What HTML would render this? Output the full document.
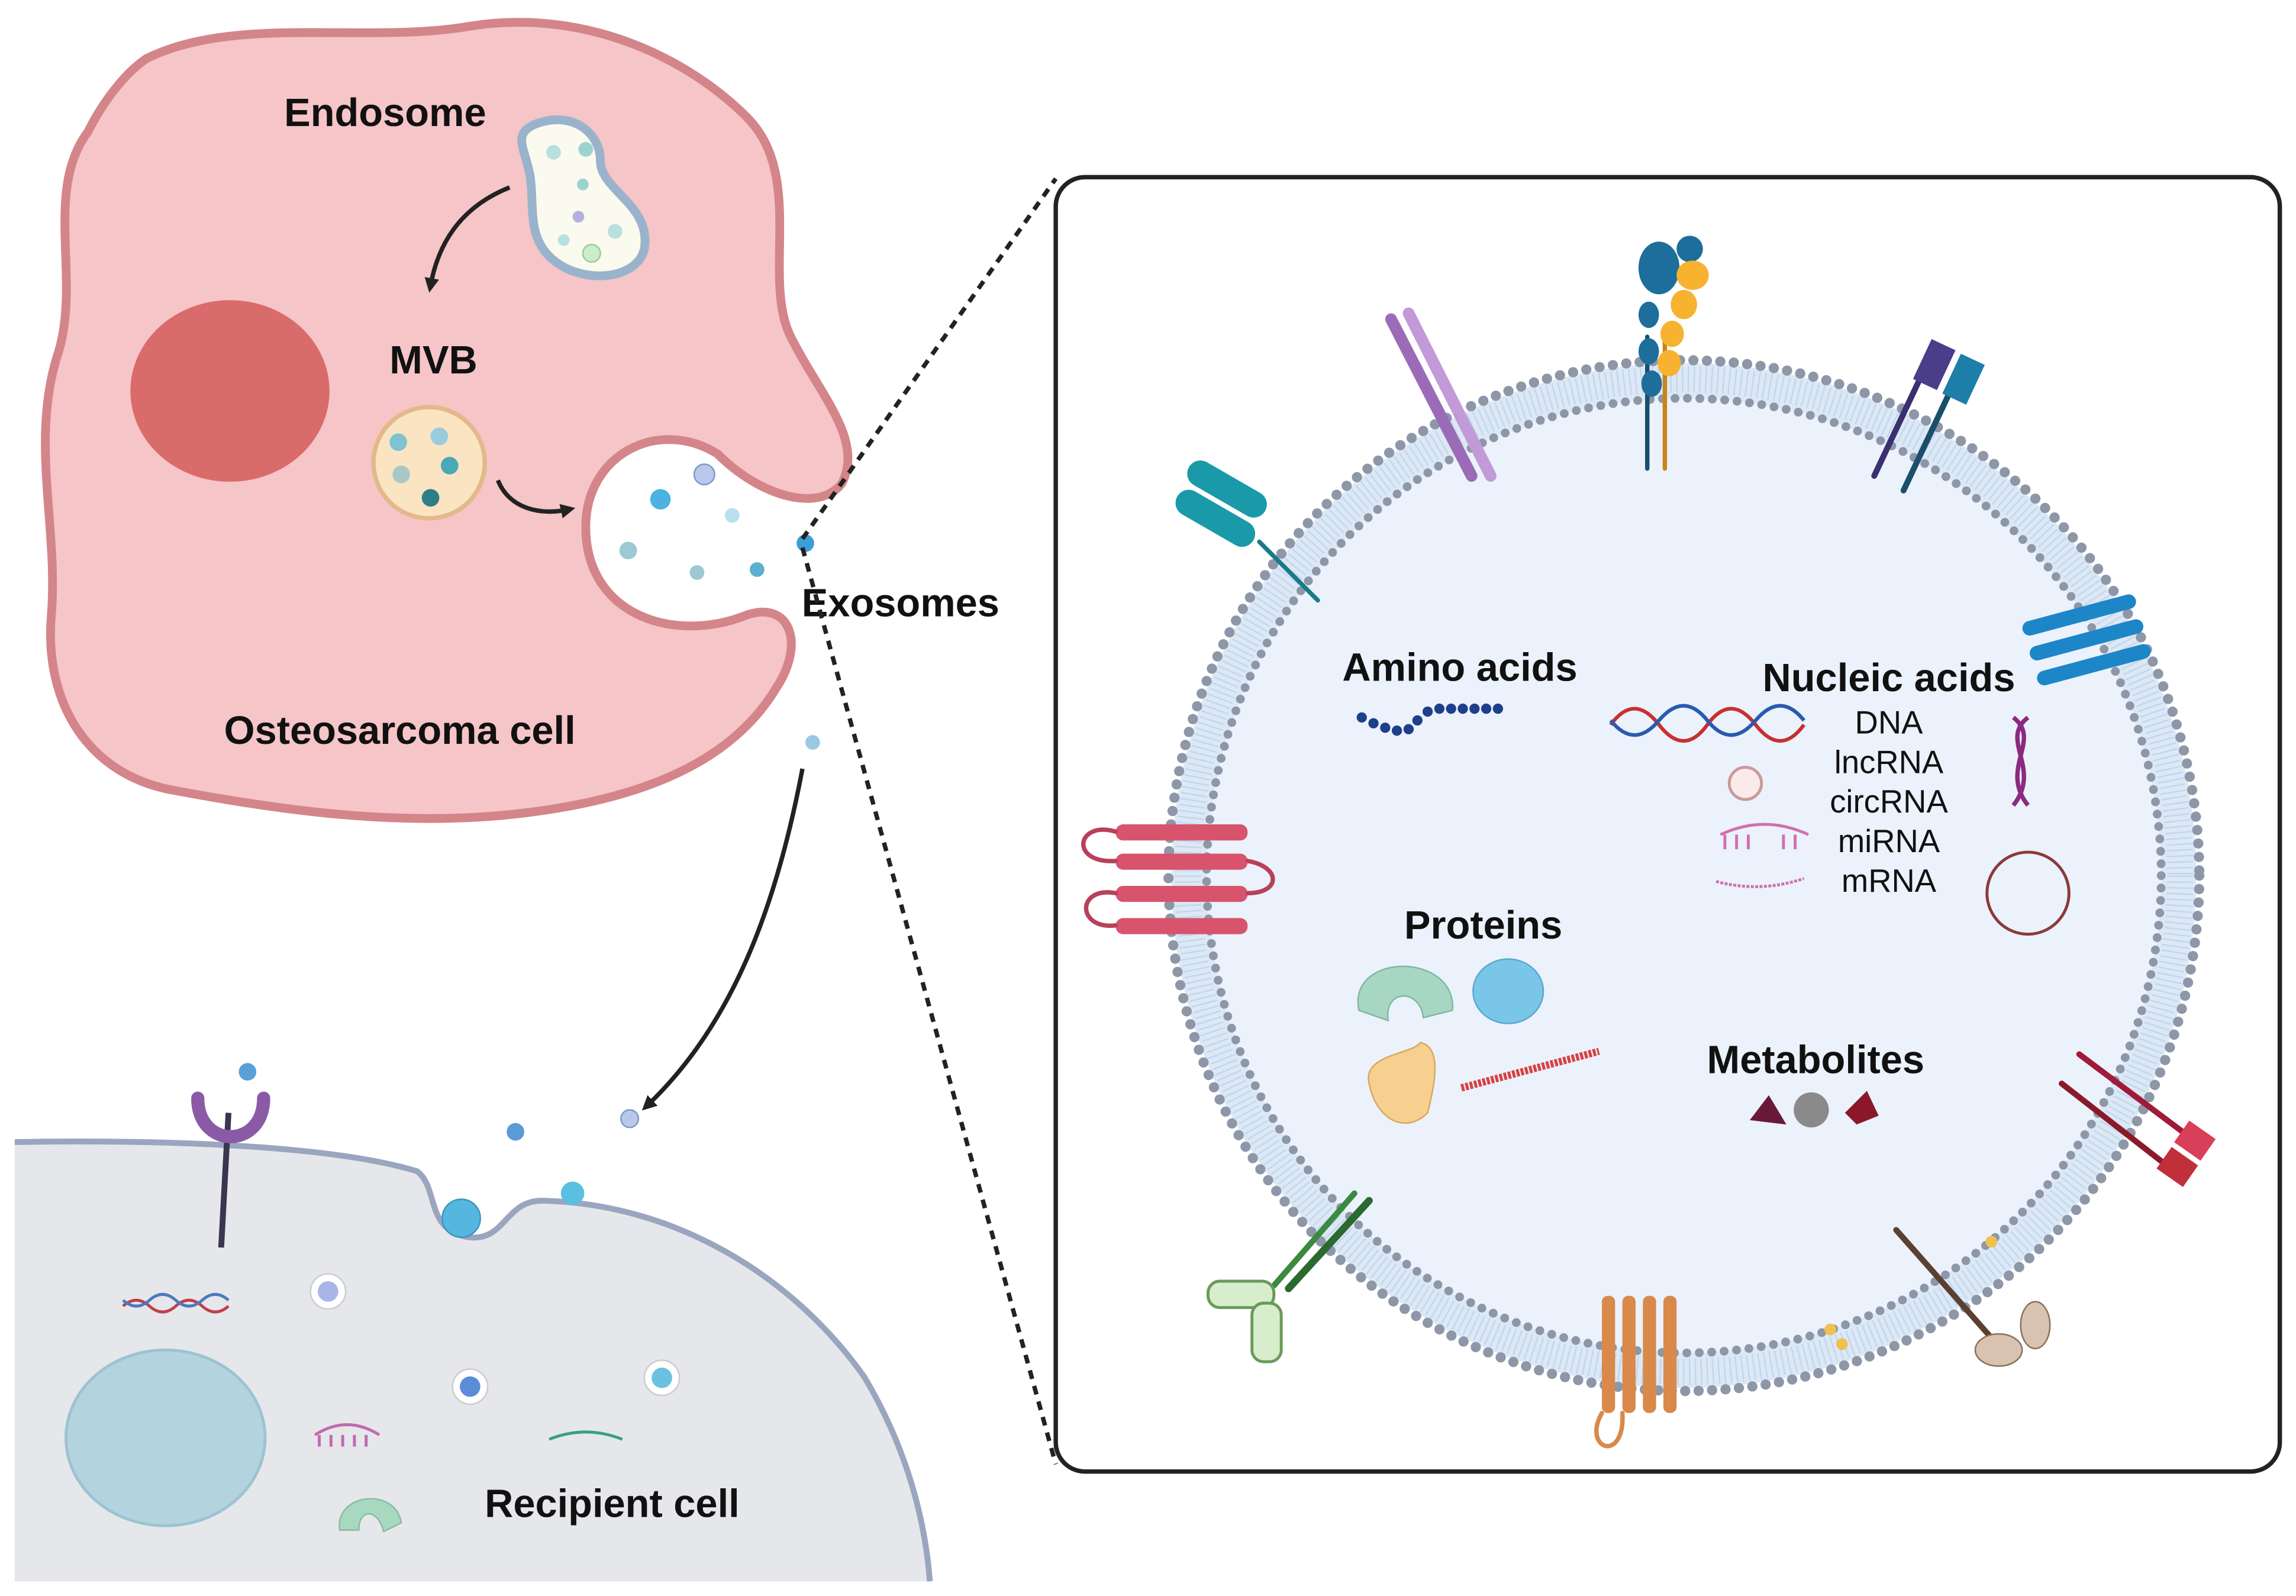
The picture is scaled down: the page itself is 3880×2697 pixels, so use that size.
<!DOCTYPE html>
<html><head><meta charset="utf-8"><style>
html,body{margin:0;padding:0;background:#fff;}
svg{display:block;}
text{font-family:"Liberation Sans",Arial,sans-serif;}
</style></head><body>
<svg width="3880" height="2697" viewBox="0 0 1568 1090" xmlns="http://www.w3.org/2000/svg">
<defs>
<marker id="ah" markerWidth="10" markerHeight="10" refX="5" refY="5" orient="auto" markerUnits="userSpaceOnUse" viewBox="0 0 10 10"><path d="M0,0 L10,5 L0,10 z" fill="#222"/></marker>
</defs>
<rect width="1568" height="1090" fill="#fff"/>

<!-- Recipient cell -->
<path d="M10,780 C120,778 230,783 285,800 C300,812 290,840 320,845 C345,848 345,820 370,820 C460,822 540,870 590,940 C620,990 632,1040 635,1080 L10,1080 Z" fill="#e6e7ea"/>
<path d="M10,780 C120,778 230,783 285,800 C300,812 290,840 320,845 C345,848 345,820 370,820 C460,822 540,870 590,940 C620,990 632,1040 635,1080" fill="none" stroke="#9aa6bf" stroke-width="4"/>
<ellipse cx="113" cy="982" rx="68" ry="60" fill="#b3d3df" stroke="#9cc3d2" stroke-width="2"/>
<line x1="151" y1="852" x2="156" y2="760" stroke="#3a3550" stroke-width="4"/>
<path d="M135,750 C135,785 180,785 180,750" fill="none" stroke="#8a5aa6" stroke-width="9" stroke-linecap="round"/>
<circle cx="169" cy="732" r="6" fill="#5aa0d8"/>
<circle cx="352" cy="773" r="6" fill="#5a9ad8"/>
<circle cx="430" cy="764" r="6" fill="#b7c8ea" stroke="#7f98c9"/>
<circle cx="391" cy="815" r="8" fill="#5ac0e0"/>
<circle cx="315" cy="832" r="13" fill="#55b7e0" stroke="#3a95c2"/>
<circle cx="224" cy="882" r="12" fill="#fff" stroke="#ccc"/><circle cx="224" cy="882" r="7" fill="#a7b6e6"/>
<circle cx="321" cy="947" r="12" fill="#fff" stroke="#ccc"/><circle cx="321" cy="947" r="7" fill="#5a8cd8"/>
<circle cx="452" cy="941" r="12" fill="#fff" stroke="#ccc"/><circle cx="452" cy="941" r="7" fill="#6cc0e0"/>
<path d="M84,892 q9,-8 18,0 t18,0 t18,0 t18,0" stroke="#c0404a" stroke-width="2" fill="none"/>
<path d="M84,888 q9,8 18,0 t18,0 t18,0 t18,0" stroke="#4a7ac0" stroke-width="2" fill="none"/>
<path d="M215,980 q22,-14 44,0 M218,980 v8 M226,980 v8 M234,980 v8 M242,980 v8 M250,980 v8" stroke="#c06ab0" stroke-width="2" fill="none"/>
<path d="M375,983 q25,-10 50,0" stroke="#3aa080" stroke-width="2" fill="none"/>
<path d="M232,1045 C228,1020 270,1015 274,1040 L262,1046 C258,1030 245,1030 245,1045 Z" fill="#a8d8c0" stroke="#88bca4"/>
<text x="418" y="1036" font-size="27" font-weight="bold" text-anchor="middle" fill="#111">Recipient cell</text>

<!-- Osteosarcoma cell -->
<path d="M100,40 C160,10 250,30 320,18 C400,5 470,40 510,80 C550,120 520,190 540,230 C560,270 590,300 575,330 C560,350 520,340 490,310 C450,285 400,310 400,360 C400,420 460,440 510,420 C540,410 550,440 530,470 C500,520 440,545 360,555 C280,565 200,555 120,540 C60,530 30,480 35,420 C40,360 20,300 40,240 C55,190 30,130 60,90 C70,70 85,50 100,40 Z" fill="#f5c5c7" stroke="#d4858a" stroke-width="6"/>
<ellipse cx="157" cy="267" rx="68" ry="62" fill="#da6b6b"/>
<path d="M365,85 C390,75 410,90 410,110 C410,130 445,140 440,170 C435,192 395,195 375,175 C360,160 365,140 362,120 C358,100 350,92 365,85 Z" fill="#fbfaee" stroke="#9ab3cc" stroke-width="6"/>
<circle cx="378" cy="104" r="5" fill="#b8e0e0"/><circle cx="400" cy="102" r="5" fill="#9cd2d0"/><circle cx="398" cy="126" r="4" fill="#9cd2d0"/><circle cx="395" cy="148" r="4" fill="#b6b0e0"/><circle cx="420" cy="158" r="5" fill="#b8e0e0"/><circle cx="404" cy="173" r="6" fill="#cdeccd" stroke="#9c9"/><circle cx="385" cy="164" r="4" fill="#b8e0e0"/>
<path d="M348,128 C318,140 300,162 294,195" fill="none" stroke="#222" stroke-width="3" marker-end="url(#ah)"/>
<circle cx="293" cy="316" r="38" fill="#fbe4c2" stroke="#e3b98a" stroke-width="3"/>
<circle cx="272" cy="302" r="6" fill="#7ec3d2"/><circle cx="300" cy="298" r="6" fill="#9cd"/><circle cx="307" cy="318" r="6" fill="#48a9b8"/><circle cx="274" cy="324" r="6" fill="#a8c8c8"/><circle cx="294" cy="340" r="6" fill="#2e7e8a"/>
<path d="M340,328 C348,348 370,352 388,348" fill="none" stroke="#222" stroke-width="3" marker-end="url(#ah)"/>
<circle cx="481" cy="324" r="7" fill="#b7c8ea" stroke="#7f98c9"/><circle cx="451" cy="341" r="7" fill="#4cb2e0"/><circle cx="500" cy="352" r="5" fill="#b8e0ee"/><circle cx="429" cy="376" r="6" fill="#9cc9d2"/><circle cx="476" cy="391" r="5" fill="#9cc9d2"/><circle cx="517" cy="389" r="5" fill="#5ab0d0"/>
<circle cx="550" cy="371" r="6" fill="#3a9fd8"/>
<circle cx="555" cy="507" r="5" fill="#9cc9e2"/>
<text x="263" y="86" font-size="27" font-weight="bold" text-anchor="middle" fill="#111">Endosome</text>
<text x="296" y="255" font-size="27" font-weight="bold" text-anchor="middle" fill="#111">MVB</text>
<text x="273" y="508" font-size="27" font-weight="bold" text-anchor="middle" fill="#111">Osteosarcoma cell</text>
<text x="615" y="421" font-size="27" font-weight="bold" text-anchor="middle" fill="#111">Exosomes</text>
<path d="M548,525 C530,620 500,700 442,755" fill="none" stroke="#222" stroke-width="3" marker-end="url(#ah)"/>

<line x1="548" y1="368" x2="721" y2="122" stroke="#222" stroke-width="3" stroke-dasharray="6,5"/>
<line x1="548" y1="374" x2="721" y2="1000" stroke="#222" stroke-width="3" stroke-dasharray="6,5"/>

<rect x="721" y="121" width="836" height="884" rx="20" fill="#fff" stroke="#222" stroke-width="3"/>
<circle cx="1150" cy="598" r="350" fill="#dde8f5"/>
<circle cx="1150" cy="598" r="326" fill="#ebf2fb"/>
<circle cx="1150" cy="598" r="352" fill="none" stroke="#8d97a8" stroke-width="7" stroke-dasharray="0 9.2" stroke-linecap="round"/>
<circle cx="1150" cy="598" r="326" fill="none" stroke="#8d97a8" stroke-width="6" stroke-dasharray="0 8.5" stroke-linecap="round"/>
<circle cx="1150" cy="598" r="339" fill="none" stroke="#c2d6ee" stroke-width="18" stroke-dasharray="1 3"/>

<g stroke-linecap="round">
<line x1="1125" y1="320" x2="1125" y2="230" stroke="#1a4f6a" stroke-width="3"/><line x1="1137" y1="320" x2="1137" y2="230" stroke="#c8851a" stroke-width="3"/>
<ellipse cx="1133" cy="183" rx="14" ry="18" fill="#1d6e9a"/><circle cx="1154" cy="170" r="9" fill="#1d6e9a"/><ellipse cx="1156" cy="188" rx="11" ry="10" fill="#f7b230"/><ellipse cx="1150" cy="208" rx="9" ry="10" fill="#f7b230"/><ellipse cx="1142" cy="228" rx="8" ry="9" fill="#f7b230"/><ellipse cx="1140" cy="248" rx="8" ry="9" fill="#f7b230"/><ellipse cx="1126" cy="215" rx="7" ry="9" fill="#1d6e9a"/><ellipse cx="1126" cy="240" rx="7" ry="9" fill="#1d6e9a"/><ellipse cx="1128" cy="262" rx="7" ry="9" fill="#1d6e9a"/>
<line x1="950" y1="218" x2="1005" y2="325" stroke="#9b6bb8" stroke-width="8"/><line x1="962" y1="214" x2="1018" y2="325" stroke="#c29ad8" stroke-width="8"/>
<line x1="1280" y1="325" x2="1320" y2="240" stroke="#3a2f70" stroke-width="4"/><rect x="1312" y="234" width="18" height="30" fill="#4a3d8a" transform="rotate(25 1321 249)"/>
<line x1="1300" y1="335" x2="1340" y2="250" stroke="#1a4f6a" stroke-width="4"/><rect x="1332" y="244" width="18" height="30" fill="#1d7eaa" transform="rotate(25 1341 259)"/>
<rect x="808" y="325" width="60" height="18" rx="9" fill="#1a9aa8" transform="rotate(30 838 334)"/><rect x="800" y="345" width="60" height="18" rx="9" fill="#1a9aa8" transform="rotate(30 830 354)"/><line x1="860" y1="370" x2="900" y2="410" stroke="#1a7a88" stroke-width="3"/>
<g fill="#1d86c8"><rect x="1380" y="415" width="80" height="10" rx="5" transform="rotate(-15 1420 420)"/><rect x="1385" y="432" width="80" height="10" rx="5" transform="rotate(-15 1425 437)"/><rect x="1390" y="449" width="80" height="10" rx="5" transform="rotate(-15 1430 454)"/></g>
<g fill="#d8546c"><rect x="762" y="563" width="90" height="11" rx="5"/><rect x="762" y="583" width="90" height="11" rx="5"/><rect x="762" y="605" width="90" height="11" rx="5"/><rect x="762" y="627" width="90" height="11" rx="5"/></g>
<path d="M762,568 C735,560 730,590 762,588 M762,610 C735,605 735,635 762,632 M852,588 C875,592 875,610 852,610" fill="none" stroke="#b8405a" stroke-width="3"/>
<line x1="1420" y1="720" x2="1500" y2="780" stroke="#a01a3a" stroke-width="4"/><rect x="1488" y="770" width="22" height="18" fill="#d8405a" transform="rotate(35 1499 779)"/>
<line x1="1408" y1="740" x2="1485" y2="800" stroke="#8a1a2a" stroke-width="4"/><rect x="1476" y="788" width="22" height="18" fill="#c0303a" transform="rotate(35 1487 797)"/>
<line x1="935" y1="820" x2="880" y2="880" stroke="#2a6a30" stroke-width="5"/><line x1="925" y1="815" x2="870" y2="878" stroke="#3a8a40" stroke-width="4"/>
<rect x="825" y="875" width="45" height="18" rx="8" fill="#d8edcc" stroke="#6a9a5a" stroke-width="2"/><rect x="855" y="890" width="20" height="40" rx="8" fill="#d8edcc" stroke="#6a9a5a" stroke-width="2"/>
<g fill="#d9894a"><rect x="1094" y="885" width="9" height="80" rx="4"/><rect x="1108" y="885" width="9" height="80" rx="4"/><rect x="1122" y="885" width="9" height="80" rx="4"/><rect x="1136" y="885" width="9" height="80" rx="4"/></g>
<path d="M1094,965 C1080,990 1110,1000 1108,965" fill="none" stroke="#d9894a" stroke-width="3"/>
<line x1="1295" y1="840" x2="1370" y2="925" stroke="#5a4030" stroke-width="4"/><ellipse cx="1365" cy="922" rx="16" ry="11" fill="#d8c2b0" stroke="#8a705a"/><ellipse cx="1390" cy="905" rx="10" ry="16" fill="#d8c2b0" stroke="#8a705a"/>
<circle cx="1250" cy="908" r="4" fill="#f0c050"/><circle cx="1258" cy="918" r="4" fill="#f0c050"/><circle cx="1360" cy="848" r="4" fill="#f0c050"/>
</g>

<text x="997" y="465" font-size="27" font-weight="bold" text-anchor="middle" fill="#111">Amino acids</text>
<g fill="#1e3f8a"><circle cx="930" cy="490" r="3.5"/><circle cx="938" cy="494" r="3.5"/><circle cx="946" cy="497" r="3.5"/><circle cx="954" cy="499" r="3.5"/><circle cx="962" cy="498" r="3.5"/><circle cx="968" cy="492" r="3.5"/><circle cx="975" cy="486" r="3.5"/><circle cx="983" cy="484" r="3.5"/><circle cx="991" cy="484" r="3.5"/><circle cx="999" cy="484" r="3.5"/><circle cx="1007" cy="484" r="3.5"/><circle cx="1015" cy="484" r="3.5"/><circle cx="1023" cy="484" r="3.5"/></g>
<text x="1290" y="472" font-size="27" font-weight="bold" text-anchor="middle" fill="#111">Nucleic acids</text>
<g font-size="22" text-anchor="middle" fill="#111"><text x="1290" y="501">DNA</text><text x="1290" y="528">lncRNA</text><text x="1290" y="555">circRNA</text><text x="1290" y="582">miRNA</text><text x="1290" y="609">mRNA</text></g>
<path d="M1100,495 q16,-22 33,0 t33,0 t33,0 t33,0" stroke="#c83030" stroke-width="2.5" fill="none"/>
<path d="M1100,492 q16,20 33,0 t33,0 t33,0 t33,0" stroke="#2a5ab0" stroke-width="2.5" fill="none"/>
<circle cx="1192" cy="535" r="11" fill="#fbeaea" stroke="#c89a9a" stroke-width="2"/>
<path d="M1175,570 q30,-14 60,0 M1178,570 v10 M1186,570 v10 M1194,570 v10 M1218,570 v10 M1226,570 v10" stroke="#d070b0" stroke-width="2" fill="none"/>
<path d="M1172,602 q30,8 60,-2" stroke="#d070b0" stroke-width="2" fill="none" stroke-dasharray="2,1"/>
<path d="M1375,490 C1395,505 1365,525 1385,550 M1385,490 C1365,505 1395,525 1375,550" stroke="#8a2a80" stroke-width="3" fill="none"/>
<circle cx="1385" cy="610" r="28" fill="none" stroke="#8a3a3a" stroke-width="2"/>
<text x="1013" y="641" font-size="27" font-weight="bold" text-anchor="middle" fill="#111">Proteins</text>
<path d="M928,690 C920,650 995,650 992,690 L972,695 C970,675 945,675 948,697 Z" fill="#a7d6c3" stroke="#7fb8a2"/>
<ellipse cx="1030" cy="677" rx="24" ry="22" fill="#79c6e8" stroke="#5aa8d0"/>
<path d="M935,740 C930,720 965,720 970,712 C985,715 980,740 975,760 C960,775 940,765 935,740 Z" fill="#f7cf8e" stroke="#d8a860"/>
<line x1="998" y1="743" x2="1092" y2="718" stroke="#d84040" stroke-width="5" stroke-dasharray="2,1"/>
<text x="1240" y="733" font-size="27" font-weight="bold" text-anchor="middle" fill="#111">Metabolites</text>
<path d="M1195,765 L1208,748 L1220,768 Z" fill="#6a1838"/>
<circle cx="1237" cy="758" r="12" fill="#8a8a8a"/>
<path d="M1260,760 L1275,745 L1283,762 L1268,768 Z" fill="#8a1828"/>
</svg>
</body></html>
